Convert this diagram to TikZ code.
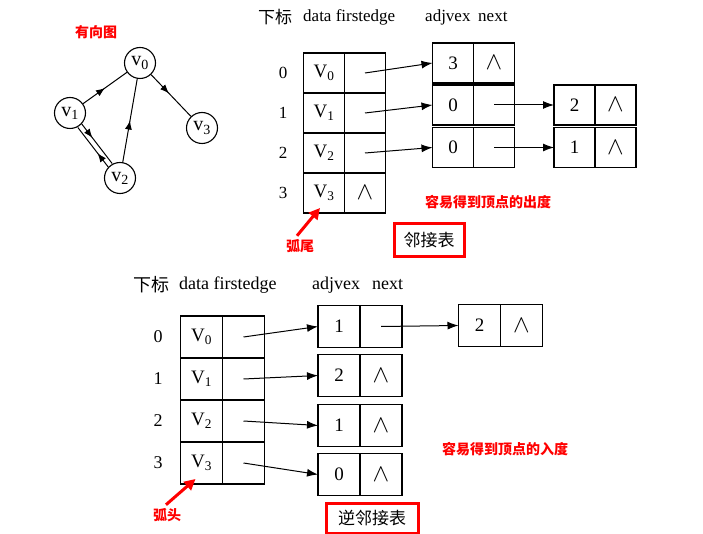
\documentclass[tikz,border=0pt]{standalone}
\usepackage{fontspec}
\setmainfont{Liberation Serif}
\newfontfamily\cjk{Noto Sans CJK SC}
\usetikzlibrary{arrows.meta,positioning,decorations.markings}
\newcommand{\nil}{{\fontsize{26}{26}\selectfont$\wedge$}}

\begin{document}
\begin{tikzpicture}[x=1pt, y=-1pt,
    vertex/.style={circle, draw, line width=1.1pt, minimum size=31pt, inner sep=0pt, font=\fontsize{20}{20}\selectfont},
    edge/.style={line width=1pt, postaction={decorate}, decoration={markings, mark=at position #1 with {\arrow{Latex[length=9pt,width=7pt]}}}},
    edge/.default=0.5,
    tcell/.style={rectangle, draw, line width=1.2pt, outer sep=0pt, inner sep=0pt, minimum width=41pt, minimum height=40pt, font=\fontsize{19}{19}\selectfont},
    bcell/.style={tcell, minimum width=42pt, minimum height=42pt, font=\fontsize{19}{19}\selectfont},
    headtext/.style={anchor=west, inner sep=0pt, font=\fontsize{17}{17}\selectfont},
    link/.style={-{Latex[length=11pt,width=8pt]}, line width=1pt},
    redarrow/.style={-{Triangle[length=11pt,width=11pt]}, red, line width=3pt},
    redbox/.style={rectangle, draw=red, line width=3pt, font=\cjk\fontsize{17}{17}\selectfont},
    note/.style={red, font=\cjk\bfseries\fontsize{14}{14}\selectfont}
]
\useasboundingbox (0,0) rectangle (703,534);

% Directed graph
\node[note] (graphname) at (96,32) {有向图};
\node[vertex] (v0) at (140,63) {v\textsubscript{0}};
\node[vertex] (v1) at (70,113) {v\textsubscript{1}};
\node[vertex] (v2) at (120,178) {v\textsubscript{2}};
\node[vertex] (v3) at (202,128) {v\textsubscript{3}};

\draw[edge] (v1) -- (v0);
\draw[edge=0.45] (v0) -- (v3);
\draw[edge] (v2) -- (v0);
\draw[edge=0.35, transform canvas={xshift=2pt, yshift=1.7pt}] (v1) -- (v2);
\draw[edge=0.35, transform canvas={xshift=-2pt, yshift=-1.7pt}] (v2) -- (v1);

% Adjacency list: headings
\node[headtext] (thead) at (258,17) {\cjk 下标};
\node[headtext] (tdata) at (303,17) {data firstedge};
\node[headtext] (tadj) at (425,17) {adjvex};
\node[headtext] (tnext) at (478,17) {next};

% Adjacency list: vertex table
\node[tcell] (tvd0) at (324,73) {V\textsubscript{0}};
\node[tcell, right=0pt of tvd0] (tvf0) {};
\node[tcell, below=0pt of tvd0] (tvd1) {V\textsubscript{1}};
\node[tcell, right=0pt of tvd1] (tvf1) {};
\node[tcell, below=0pt of tvd1] (tvd2) {V\textsubscript{2}};
\node[tcell, right=0pt of tvd2] (tvf2) {};
\node[tcell, below=0pt of tvd2] (tvd3) {V\textsubscript{3}};
\node[tcell, right=0pt of tvd3] (tvf3) {\nil};

\node[headtext, anchor=center] (ti0) at (283,73) {0};
\node[headtext, anchor=center] (ti1) at (283,113) {1};
\node[headtext, anchor=center] (ti2) at (283,153) {2};
\node[headtext, anchor=center] (ti3) at (283,193) {3};

% Adjacency list: edge nodes
\node[tcell] (te0a) at (453,63) {3};
\node[tcell, right=0pt of te0a] (te0n) {\nil};
\node[tcell] (te1a) at (453,105) {0};
\node[tcell, right=0pt of te1a] (te1n) {};
\node[tcell] (te2a) at (453,147.5) {0};
\node[tcell, right=0pt of te2a] (te2n) {};
\node[tcell] (te3a) at (574.5,105) {2};
\node[tcell, right=0pt of te3a] (te3n) {\nil};
\node[tcell] (te4a) at (574.5,147.5) {1};
\node[tcell, right=0pt of te4a] (te4n) {\nil};

\draw[link] (tvf0.center) -- (te0a.west);
\draw[link] (tvf1.center) -- (te1a.west);
\draw[link] (tvf2.center) -- (te2a.west);
\draw[link] (te1n.center) -- (te3a.west);
\draw[link] (te2n.center) -- (te4a.west);

\node[note] (outdeg) at (488,202) {容易得到顶点的出度};
\node[note] (tail) at (300,246) {弧尾};
\draw[redarrow] ([xshift=-3pt]tail.north) -- ([shift={(-4,-5)}]tvd3.south);
\node[redbox, minimum width=70pt, minimum height=33pt] (adjname) at (429,240.5) {邻接表};

% Inverse adjacency list: headings
\node[headtext, font=\fontsize{18}{18}\selectfont] (bhead) at (133,285) {\cjk 下标};
\node[headtext, font=\fontsize{18}{18}\selectfont] (bdata) at (179,285) {data firstedge};
\node[headtext, font=\fontsize{18}{18}\selectfont] (badj) at (312,285) {adjvex};
\node[headtext, font=\fontsize{18}{18}\selectfont] (bnext) at (372,285) {next};

% Inverse adjacency list: vertex table
\node[bcell] (bvd0) at (201.5,337) {V\textsubscript{0}};
\node[bcell, right=0pt of bvd0] (bvf0) {};
\node[bcell, below=0pt of bvd0] (bvd1) {V\textsubscript{1}};
\node[bcell, right=0pt of bvd1] (bvf1) {};
\node[bcell, below=0pt of bvd1] (bvd2) {V\textsubscript{2}};
\node[bcell, right=0pt of bvd2] (bvf2) {};
\node[bcell, below=0pt of bvd2] (bvd3) {V\textsubscript{3}};
\node[bcell, right=0pt of bvd3] (bvf3) {};

\node[headtext, font=\fontsize{18}{18}\selectfont, anchor=center] (bi0) at (158,337) {0};
\node[headtext, font=\fontsize{18}{18}\selectfont, anchor=center] (bi1) at (158,379) {1};
\node[headtext, font=\fontsize{18}{18}\selectfont, anchor=center] (bi2) at (158,421) {2};
\node[headtext, font=\fontsize{18}{18}\selectfont, anchor=center] (bi3) at (158,463) {3};

% Inverse adjacency list: edge nodes
\node[bcell] (be0a) at (339,326.5) {1};
\node[bcell, right=0pt of be0a] (be0n) {};
\node[bcell] (be1a) at (339,375.5) {2};
\node[bcell, right=0pt of be1a] (be1n) {\nil};
\node[bcell] (be2a) at (339,425.5) {1};
\node[bcell, right=0pt of be2a] (be2n) {\nil};
\node[bcell] (be3a) at (339,474.5) {0};
\node[bcell, right=0pt of be3a] (be3n) {\nil};
\node[bcell] (be4a) at (479.5,325.5) {2};
\node[bcell, right=0pt of be4a] (be4n) {\nil};

\draw[link] (bvf0.center) -- (be0a.west);
\draw[link] (bvf1.center) -- (be1a.west);
\draw[link] (bvf2.center) -- (be2a.west);
\draw[link] (bvf3.center) -- (be3a.west);
\draw[link] (be0n.center) -- (be4a.west);

\node[note] (indeg) at (505,449) {容易得到顶点的入度};
\node[note] (head) at (167,515) {弧头};
\draw[redarrow] ([xshift=-1pt]head.north) -- ([shift={(-6,-5)}]bvd3.south);
\node[redbox, minimum width=92pt, minimum height=30pt] (invname) at (372,518) {逆邻接表};

\end{tikzpicture}
\end{document}
